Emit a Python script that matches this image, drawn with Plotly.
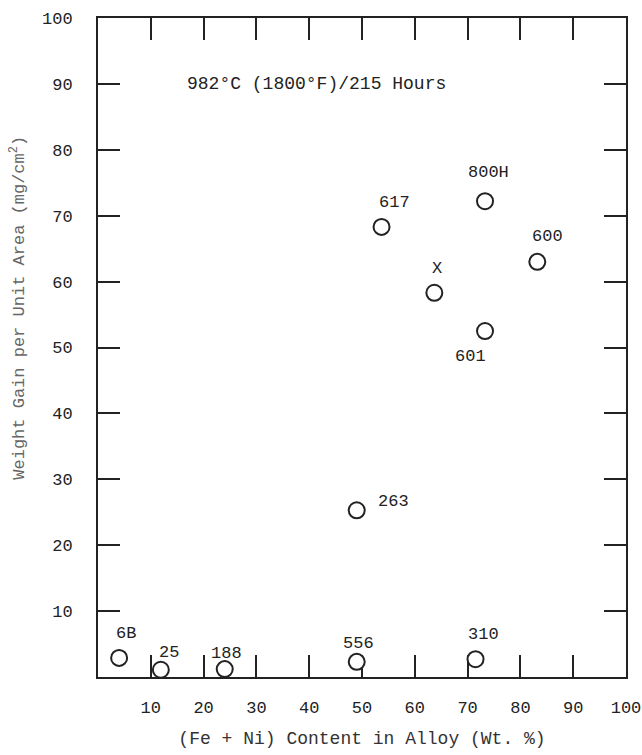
import plotly.graph_objects as go

# ---- data ----
alloys = ["6B", "25", "188", "556", "310", "263", "617", "X", "800H", "600", "601"]
fe_ni = [4.0, 11.9, 24.0, 49.0, 71.5, 49.0, 53.7, 63.7, 73.3, 83.2, 73.3]
weight_gain = [2.9, 1.1, 1.2, 2.3, 2.7, 25.3, 68.3, 58.3, 72.2, 63.0, 52.5]

x_ticks = [10, 20, 30, 40, 50, 60, 70, 80, 90, 100]
y_ticks = [10, 20, 30, 40, 50, 60, 70, 80, 90, 100]
x_tick_text = [str(v) for v in x_ticks]
y_tick_text = [str(v) for v in y_ticks]

title_text = "982°C (1800°F)/215 Hours"
x_title = "(Fe + Ni) Content in Alloy (Wt. %)"
y_title = "Weight Gain per Unit Area (mg/cm<sup>2</sup>)"

# label offsets (pixels) relative to each marker
label_shift = {
    "6B": (7, 24), "25": (8, 17), "188": (2, 16), "556": (2, 18),
    "310": (8, 25), "263": (37, 9), "617": (13, 24), "X": (3, 24),
    "800H": (3, 29), "600": (10, 25), "601": (-15, -25),
}

FONT = "Liberation Mono"
INK = "#222222"

fig = go.Figure()
fig.add_trace(go.Scatter(
    x=fe_ni, y=weight_gain, mode="markers",
    marker=dict(symbol="circle", size=16, color="white",
                line=dict(color=INK, width=2)),
    cliponaxis=False, showlegend=False, hoverinfo="x+y",
))

annotations = []
for name, xv, yv in zip(alloys, fe_ni, weight_gain):
    dx, dy = label_shift[name]
    annotations.append(dict(
        x=xv, y=yv, xref="x", yref="y", text=name, showarrow=False,
        xshift=dx, yshift=dy, font=dict(family=FONT, size=17, color=INK),
    ))

annotations.append(dict(
    x=16.5, y=90, xref="x", yref="y", xanchor="left", text=title_text,
    showarrow=False, font=dict(family=FONT, size=18, color=INK),
))
annotations.append(dict(
    x=-0.152, y=0.56, xref="paper", yref="paper", text=y_title,
    xanchor="center", yanchor="middle",
    textangle=-90, showarrow=False,
    font=dict(family=FONT, size=17, color="#666666"),
))

axis_common = dict(
    showline=True, linecolor=INK, linewidth=2, mirror="ticks",
    ticks="inside", ticklen=22, tickwidth=2, tickcolor=INK,
    showgrid=False, zeroline=False, layer="below traces", automargin=False,
    tickfont=dict(family=FONT, size=17, color=INK),
)

fig.update_layout(
    width=642, height=755,
    margin=dict(l=98, r=16, t=18, b=78),
    paper_bgcolor="white", plot_bgcolor="white",
    xaxis=dict(range=[0, 100], tickmode="array", tickvals=x_ticks,
               ticktext=x_tick_text, ticklabelstandoff=14,
               title=dict(text=x_title, standoff=14,
                          font=dict(family=FONT, size=18, color="#333333")),
               **axis_common),
    yaxis=dict(range=[0, 100], tickmode="array", tickvals=y_ticks,
               ticktext=y_tick_text, ticklabelstandoff=20,
               **axis_common),
    annotations=annotations,
)

fig.write_html("out.html")
